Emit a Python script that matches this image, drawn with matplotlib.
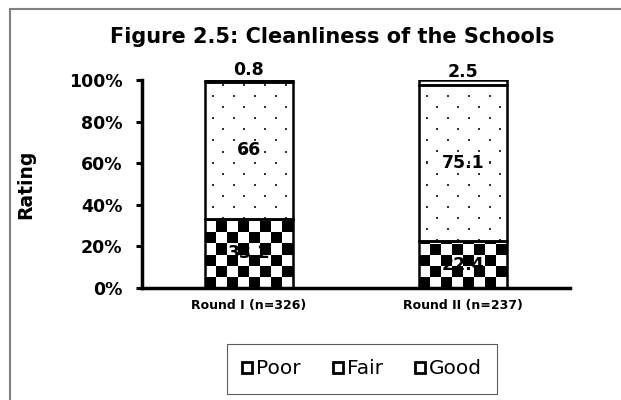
import matplotlib
matplotlib.use("Agg")
import matplotlib.pyplot as plt
import numpy as np
from matplotlib.patches import Patch, Rectangle

categories = ["Round I (n=326)", "Round II (n=237)"]
poor = [33.2, 22.4]
fair = [66.0, 75.1]
good = [0.8, 2.5]
series_names = ["Poor", "Fair", "Good"]
yticks = [0, 20, 40, 60, 80, 100]

W, H = 621, 400
fig = plt.figure(figsize=(W / 100, H / 100), dpi=100)
ax = fig.add_axes([142 / W, 112 / H, 428 / W, 208 / H])

x = np.arange(len(categories))
width = 0.41
xlim = (-0.5, len(categories) - 0.5)
ylim = (0, 100)
ax.set_xlim(*xlim)
ax.set_ylim(*ylim)

bottom2 = np.array(poor) + np.array(fair)
b_poor = ax.bar(x, poor, width, color="white", edgecolor="black", lw=1.8, zorder=2)
b_fair = ax.bar(x, fair, width, bottom=poor, color="white", edgecolor="black", lw=1.8, zorder=2)
b_good = ax.bar(x, good, width, bottom=bottom2, color="white", edgecolor="black", lw=1.8, zorder=2)


def texture(patch, kind):
    # fill a bar segment with a pixel pattern, clipped to the bar
    x0, y0 = patch.get_x(), patch.get_y()
    x1, y1 = x0 + patch.get_width(), y0 + patch.get_height()
    (px0, py0), (px1, py1) = ax.transData.transform([(x0, y0), (x1, y1)])
    nw, nh = int(round(px1 - px0)), int(round(py1 - py0))
    jj, ii = np.meshgrid(np.arange(nw), np.arange(nh))
    if kind == "checker":
        arr = (((ii // 11) + (jj // 11)) % 2).astype(float)
    else:
        row = ii // 11
        dot = (ii % 11 < 2) & (((jj + 4 + (row % 2) * 10) % 21) < 2)
        arr = np.where(dot, 0.2, 1.0)
    im = ax.imshow(arr, extent=(x0, x1, y0, y1), origin="lower", cmap="gray",
                   vmin=0, vmax=1, interpolation="nearest", aspect="auto", zorder=1)
    im.set_clip_path(patch)


for p in b_poor:
    texture(p, "checker")
for p in b_fair:
    texture(p, "dots")
for p in list(b_poor) + list(b_fair) + list(b_good):
    p.set_facecolor("none")
    p.set_zorder(3)
ax.set_xlim(*xlim)
ax.set_ylim(*ylim)

lab = dict(ha="center", va="center", fontsize=12.5, fontweight="bold", zorder=4)
for i in range(len(categories)):
    ax.text(x[i], poor[i] / 2, f"{poor[i]:g}", **lab)
    ax.text(x[i], poor[i] + fair[i] / 2, f"{fair[i]:g}", **lab)
    ax.annotate(f"{good[i]:g}", (x[i], bottom2[i] + good[i] / 2), xytext=(0, 7.5),
                textcoords="offset points", **lab)

ax.set_yticks(yticks)
ax.set_yticklabels([f"{v}%" for v in yticks], fontsize=12.5, fontweight="bold")
ax.set_xticks(x)
ax.set_xticklabels(categories, fontsize=9, fontweight="bold")
ax.tick_params(axis="x", length=0, pad=8)
ax.tick_params(axis="y", length=4, width=2.2, pad=10)
for s in ["top", "right"]:
    ax.spines[s].set_visible(False)
for s in ["left", "bottom"]:
    ax.spines[s].set_linewidth(2.5)
ax.set_ylabel("Rating", fontsize=13.5, fontweight="bold")
ax.yaxis.set_label_coords(-107 / 428, 0.5)

fig.text(332 / W, 1 - 37 / H, "Figure 2.5: Cleanliness of the Schools",
         ha="center", va="center", fontsize=15, fontweight="bold")

handles = [Patch(facecolor="white", edgecolor="black", lw=2, label=n) for n in series_names]
leg = fig.legend(handles=handles, loc="center", bbox_to_anchor=(362 / W, 1 - 369 / H),
                 ncol=3, frameon=True, fancybox=False, fontsize=14.5,
                 handlelength=0.5, handleheight=0.5, handletextpad=0.2,
                 columnspacing=1.6, borderpad=0.75)
leg.get_frame().set_edgecolor("#333333")
leg.get_frame().set_linewidth(0.8)

fig.add_artist(Rectangle((10 / W, -0.1), 1.2, (H - 9) / H + 0.1, transform=fig.transFigure,
                         fill=False, edgecolor="#808080", lw=1.5, clip_on=False))

fig.savefig("out.png", dpi=100)
